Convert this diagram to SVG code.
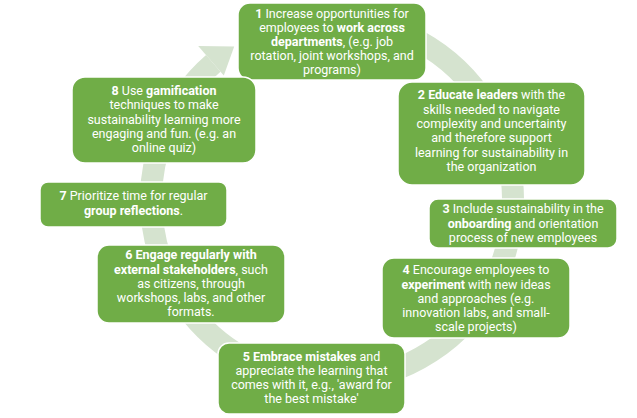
<svg xmlns="http://www.w3.org/2000/svg" width="637" height="418" viewBox="0 0 637 418">
<style>
.box{fill:#70ad47;stroke:#ffffff;stroke-width:1.5}
.t{font-family:Roboto,"Liberation Sans",sans-serif;font-size:12.5px;fill:#ffffff;text-anchor:middle}
.b{font-weight:bold}
.ring{fill:none;stroke:#d5e3cf;stroke-width:22}
.head{fill:#d5e3cf}
</style>
<rect width="637" height="418" fill="#ffffff"/>
<g id="connectors">
<path class="ring" d="M255.5,36 A181,181 0 1 1 213.3,63.4"/>
<polygon class="head" points="198.2,46 234.2,46.5 223.8,75.4"/>
</g>
<g id="node1">
<rect class="box" x="238" y="3" width="188" height="77" rx="12"/>
<text class="t" x="332" y="17.5"><tspan class="b">1</tspan> Increase opportunities  for</text>
<text class="t" x="332" y="31.5">employees to <tspan class="b">work across</tspan></text>
<text class="t" x="332" y="45.5"><tspan class="b">departments</tspan>, (e.g. job</text>
<text class="t" x="332" y="60">rotation, joint workshops, and</text>
<text class="t" x="332" y="74">programs)</text>
</g>
<g id="node2">
<rect class="box" x="398" y="82" width="187" height="103" rx="14"/>
<text class="t" x="491.5" y="99"><tspan class="b">2 Educate leaders</tspan> with the</text>
<text class="t" x="491.5" y="113.5">skills needed to navigate</text>
<text class="t" x="491.5" y="127.5">complexity and uncertainty</text>
<text class="t" x="491.5" y="142">and therefore support</text>
<text class="t" x="491.5" y="156.5">learning for sustainability in</text>
<text class="t" x="491.5" y="171">the organization</text>
</g>
<g id="node3">
<rect class="box" x="429" y="199" width="188" height="49" rx="9"/>
<text class="t" x="523" y="213"><tspan class="b">3</tspan> Include sustainability in the</text>
<text class="t" x="523" y="227.5"><tspan class="b">onboarding</tspan> and orientation</text>
<text class="t" x="523" y="242">process of new employees</text>
</g>
<g id="node4">
<rect class="box" x="382" y="258" width="188" height="80" rx="12"/>
<text class="t" x="476" y="274"><tspan class="b">4</tspan> Encourage employees to</text>
<text class="t" x="476" y="288.5"><tspan class="b">experiment</tspan> with new ideas</text>
<text class="t" x="476" y="302.5">and approaches (e.g.</text>
<text class="t" x="476" y="316.5">innovation labs, and small-</text>
<text class="t" x="476" y="331">scale projects)</text>
</g>
<g id="node5">
<rect class="box" x="218" y="343" width="187" height="71" rx="11"/>
<text class="t" x="311.5" y="360.5"><tspan class="b">5 Embrace mistakes</tspan> and</text>
<text class="t" x="311.5" y="374.5">appreciate the learning that</text>
<text class="t" x="311.5" y="388.5">comes with it, e.g., 'award for</text>
<text class="t" x="311.5" y="402.5">the best mistake'</text>
</g>
<g id="node6">
<rect class="box" x="97" y="245" width="188" height="78" rx="12"/>
<text class="t" x="191" y="259"><tspan class="b">6 Engage regularly with</tspan></text>
<text class="t" x="191" y="273.5"><tspan class="b">external stakeholders</tspan>, such</text>
<text class="t" x="191" y="287.5">as citizens, through</text>
<text class="t" x="191" y="301.5">workshops, labs, and other</text>
<text class="t" x="191" y="316">formats.</text>
</g>
<g id="node7">
<rect class="box" x="40" y="182" width="187" height="45" rx="8"/>
<text class="t" x="133.5" y="200"><tspan class="b">7</tspan> Prioritize time for regular</text>
<text class="t" x="133.5" y="214.5"><tspan class="b">group reflections</tspan>.</text>
</g>
<g id="node8">
<rect class="box" x="72" y="77" width="184" height="86" rx="13"/>
<text class="t" x="164" y="95"><tspan class="b">8</tspan> Use <tspan class="b">gamification</tspan></text>
<text class="t" x="164" y="109">techniques to make</text>
<text class="t" x="164" y="123.5">sustainability learning more</text>
<text class="t" x="164" y="137.5">engaging and fun. (e.g. an</text>
<text class="t" x="164" y="152">online quiz)</text>
</g>
</svg>
